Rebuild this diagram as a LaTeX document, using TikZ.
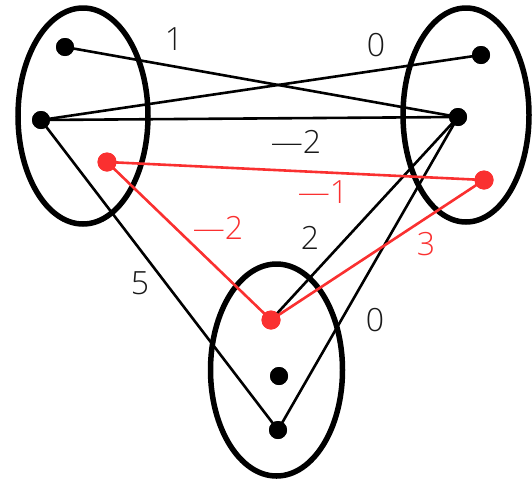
\documentclass[tikz,border=0pt]{standalone}
\usepackage{fontspec}
\IfFontExistsTF{Open Sans Light}{\setmainfont{Open Sans Light}}{\setmainfont{Open Sans}}
\definecolor{myred}{RGB}{250,48,48}
\begin{document}
\begin{tikzpicture}[x=1pt,y=-1pt,
  blob/.style={draw=black,line width=5.5pt},
  dot/.style={circle,fill=black,inner sep=0pt,minimum size=18pt},
  rdot/.style={circle,fill=myred,inner sep=0pt,minimum size=19pt},
  edge/.style={draw=black,line width=2.6pt},
  redge/.style={draw=myred,line width=2.6pt},
  lbl/.style={font=\fontsize{32}{36}\selectfont,text=black!90,inner sep=0pt},
  rlbl/.style={font=\fontsize{32}{36}\selectfont,text=myred,inner sep=0pt}]
\useasboundingbox (0,0) rectangle (532,480);
% groups
\draw[blob] (83,116) ellipse [x radius=65, y radius=108];
\draw[blob] (466,115) ellipse [x radius=63, y radius=107];
\draw[blob] (276.5,370) ellipse [x radius=66, y radius=106];
% vertices
\node[dot] (a1) at (65,47) {};
\node[dot] (a2) at (41,120) {};
\node[rdot] (a3) at (107,162) {};
\node[dot] (b1) at (481,55) {};
\node[dot] (b2) at (458,117) {};
\node[rdot] (b3) at (484,180) {};
\node[rdot] (c1) at (271,320) {};
\node[dot] (c2) at (279,376) {};
\node[dot] (c3) at (278,430) {};
% edges
\draw[edge] (a1.center) -- (b2.center);
\draw[edge] (a2.center) -- (b1.center);
\draw[edge] (a2.center) -- (b2.center);
\draw[edge] (a2.center) -- (c3.center);
\draw[edge] (b2.center) -- (c1.center);
\draw[edge] (b2.center) -- (c3.center);
\draw[redge] (a3.center) -- (b3.center);
\draw[redge] (a3.center) -- (c1.center);
\draw[redge] (b3.center) -- (c1.center);
% redraw dots on top
\node[dot] at (a1) {};
\node[dot] at (a2) {};
\node[rdot] at (a3) {};
\node[dot] at (b1) {};
\node[dot] at (b2) {};
\node[rdot] at (b3) {};
\node[rdot] at (c1) {};
\node[dot] at (c2) {};
\node[dot] at (c3) {};
% labels
\node[lbl] (l1) at (174,39) {1};
\node[lbl] (l2) at (376,45) {0};
\node[lbl] (l3) at (296,142) {—2};
\node[rlbl] (l4) at (323,192) {—1};
\node[rlbl] (l5) at (218,228) {—2};
\node[lbl] (l6) at (310,238) {2};
\node[lbl] (l7) at (140,283) {5};
\node[lbl] (l8) at (375,320) {0};
\node[rlbl] (l9) at (426,244) {3};
\end{tikzpicture}
\end{document}
